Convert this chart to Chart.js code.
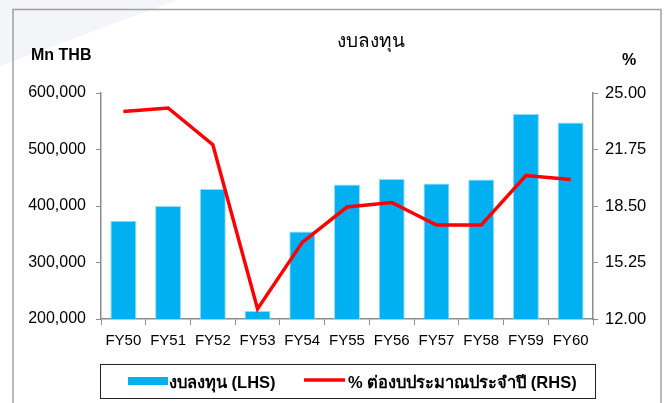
<!DOCTYPE html>
<html>
<head>
<meta charset="utf-8">
<script src="https://cdn.jsdelivr.net/npm/chart.js@4.4.1/dist/chart.umd.min.js"></script>
<style>
  html, body { margin: 0; padding: 0; background: #fff; }
  #wrap { width: 667px; height: 403px; position: relative; }
</style>
</head>
<body>
<div id="wrap"><canvas id="capexChart"></canvas></div>
<script>
const categories = ['FY50', 'FY51', 'FY52', 'FY53', 'FY54', 'FY55', 'FY56', 'FY57', 'FY58', 'FY59', 'FY60'];
const capex = [374000, 400000, 430000, 214000, 355000, 438000, 448000, 440000, 447000, 563000, 548000];
const budgetShare = [23.93, 24.14, 22.03, 12.58, 16.41, 18.44, 18.70, 17.40, 17.40, 20.25, 20.03];
const leftTicks = [200000, 300000, 400000, 500000, 600000];
const rightTicks = [12.00, 15.25, 18.50, 21.75, 25.00];

const FONT = 'Arial, "Liberation Sans", sans-serif';
const AXIS_GREY = '#8c8c8c';

// frame, titles and the boxed legend are drawn by hand
const decor = {
    id: 'decor',
    beforeDraw(chart) {
        const ctx = chart.ctx;
        ctx.save();
        ctx.fillStyle = '#fff';
        ctx.fillRect(0, 0, chart.width, chart.height);
        // faint watermark corner
        ctx.fillStyle = '#f4f5f8';
        ctx.beginPath();
        ctx.moveTo(0, 0);
        ctx.lineTo(177, 0);
        ctx.lineTo(0, 66);
        ctx.closePath();
        ctx.fill();
        ctx.strokeStyle = '#a0a0a0';
        ctx.lineWidth = 1.5;
        ctx.strokeRect(13, 9.5, 648, 420);
        ctx.restore();
    },
    afterDraw(chart) {
        const ctx = chart.ctx;
        ctx.save();
        ctx.fillStyle = '#000';
        ctx.textBaseline = 'middle';

        ctx.font = '19px ' + FONT;
        ctx.textAlign = 'center';
        ctx.fillText('งบลงทุน', 371, 42);

        ctx.font = 'bold 16px ' + FONT;
        ctx.textAlign = 'left';
        ctx.fillText('Mn THB', 31, 56);
        ctx.textAlign = 'center';
        ctx.fillText('%', 629, 61);

        // legend
        const bar = chart.data.datasets.find(d => d.type === 'bar');
        const line = chart.data.datasets.find(d => d.type === 'line');
        ctx.strokeStyle = '#222';
        ctx.lineWidth = 1;
        ctx.strokeRect(100.5, 364.5, 495, 34);
        ctx.fillStyle = bar.backgroundColor;
        ctx.fillRect(128, 377, 40, 8);
        ctx.strokeStyle = line.borderColor;
        ctx.lineWidth = 3.5;
        ctx.beginPath();
        ctx.moveTo(304, 380);
        ctx.lineTo(345, 380);
        ctx.stroke();
        ctx.fillStyle = '#000';
        ctx.font = 'bold 16.5px ' + FONT;
        ctx.textAlign = 'left';
        ctx.fillText(bar.label, 169, 383);
        ctx.fillText(line.label, 348, 383);
        ctx.restore();
    }
};

new Chart(document.getElementById('capexChart'), {
    data: {
        labels: categories,
        datasets: [{
            type: 'line',
            label: '% ต่องบประมาณประจำปี (RHS)',
            data: budgetShare,
            yAxisID: 'y1',
            borderColor: '#ff0000',
            borderWidth: 3.5,
            pointRadius: 0,
            tension: 0,
            order: 0
        }, {
            type: 'bar',
            label: 'งบลงทุน (LHS)',
            data: capex,
            yAxisID: 'y',
            backgroundColor: '#00b0f0',
            borderColor: '#8fdcf8',
            borderWidth: 1,
            categoryPercentage: 1,
            barPercentage: 0.58,
            order: 1
        }]
    },
    options: {
        responsive: true,
        maintainAspectRatio: false,
        animation: false,
        layout: { padding: { top: 93, left: 0, right: 0, bottom: 0 } },
        plugins: {
            legend: { display: false },
            title: { display: false },
            tooltip: { enabled: false }
        },
        scales: {
            x: {
                offset: true,
                grid: { offset: true, drawOnChartArea: false, color: AXIS_GREY, tickLength: 6 },
                border: { color: AXIS_GREY, width: 1.5 },
                ticks: { color: '#000', font: { family: FONT, size: 15 }, padding: 7, maxRotation: 0 },
                afterFit(scale) { scale.height = 84; }
            },
            y: {
                position: 'left',
                min: 200000,
                max: 600000,
                afterBuildTicks(scale) { scale.ticks = leftTicks.map(v => ({ value: v })); },
                grid: { drawOnChartArea: false, color: AXIS_GREY, tickLength: 5 },
                border: { color: AXIS_GREY, width: 1.5 },
                ticks: {
                    color: '#000',
                    font: { family: FONT, size: 16 },
                    padding: 10,
                    callback: v => v.toLocaleString('en-US')
                },
                afterFit(scale) { scale.width = 101; }
            },
            y1: {
                position: 'right',
                min: 12,
                max: 25,
                afterBuildTicks(scale) { scale.ticks = rightTicks.map(v => ({ value: v })); },
                grid: { drawOnChartArea: false, color: AXIS_GREY, tickLength: 5 },
                border: { color: AXIS_GREY, width: 1.5 },
                ticks: {
                    color: '#000',
                    font: { family: FONT, size: 16.5 },
                    padding: 7,
                    callback: v => v.toFixed(2)
                },
                afterFit(scale) { scale.width = 74; }
            }
        }
    },
    plugins: [decor]
});
</script>
</body>
</html>
